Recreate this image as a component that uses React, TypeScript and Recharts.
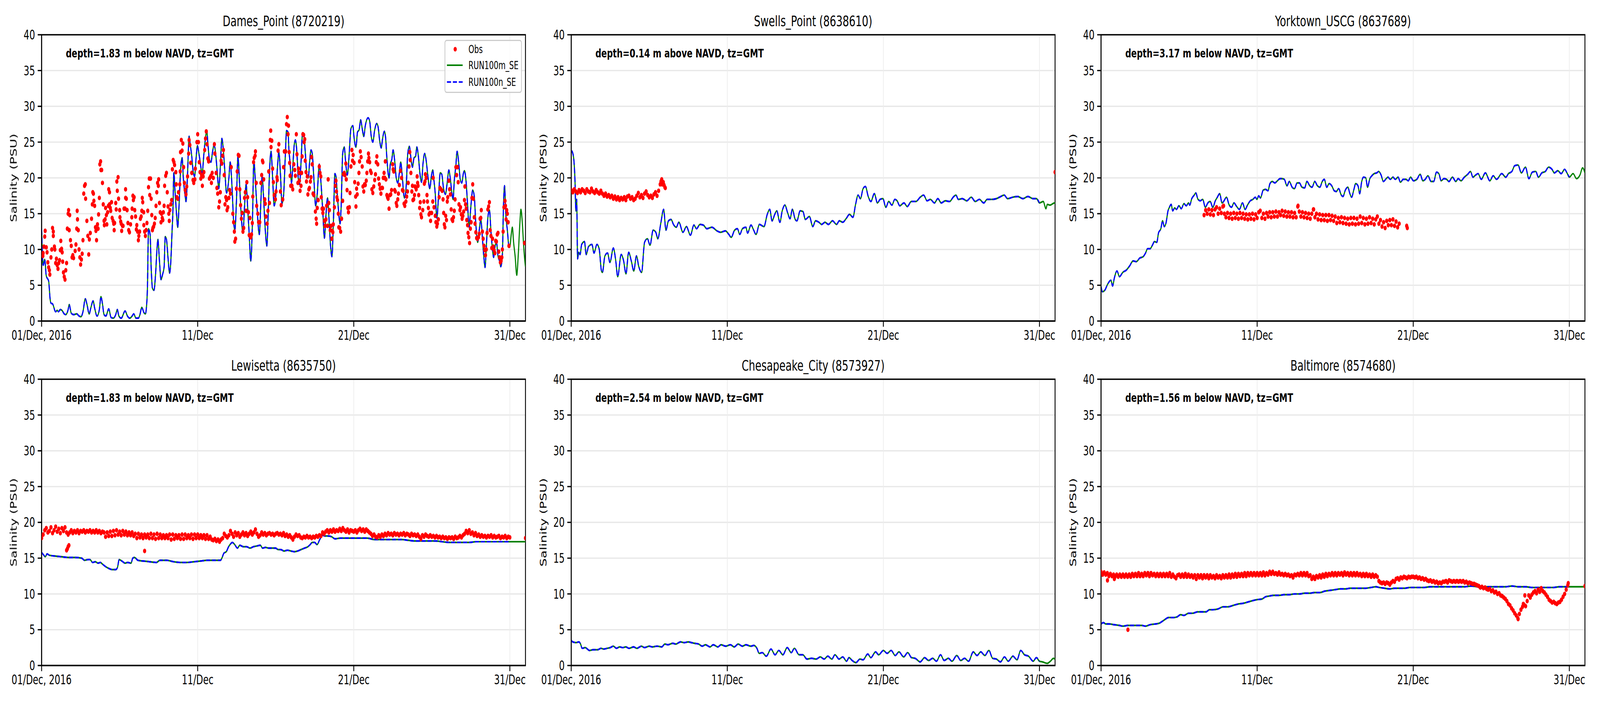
import React from 'react';
import { ComposedChart, Line, Scatter, XAxis, YAxis, CartesianGrid, ReferenceArea, Label, Legend } from 'recharts';

const FONT = 'DejaVu Sans';

// ---------- axes / labels ----------
const xTicks = [0, 10, 20, 30];
const xTickLabels = ['01/Dec, 2016', '11/Dec', '21/Dec', '31/Dec'];
const yTicks = [0, 5, 10, 15, 20, 25, 30, 35, 40];
const titles = [
  'Dames_Point (8720219)',
  'Swells_Point (8638610)',
  'Yorktown_USCG (8637689)',
  'Lewisetta (8635750)',
  'Chesapeake_City (8573927)',
  'Baltimore (8574680)',
];
const depthTexts = [
  'depth=1.83 m below NAVD, tz=GMT',
  'depth=0.14 m above NAVD, tz=GMT',
  'depth=3.17 m below NAVD, tz=GMT',
  'depth=1.83 m below NAVD, tz=GMT',
  'depth=2.54 m below NAVD, tz=GMT',
  'depth=1.56 m below NAVD, tz=GMT',
];
const legendNames = ['Obs', 'RUN100m_SE', 'RUN100n_SE'];
const blueEnd = 30.0; // RUN100n_SE ends at 31/Dec 00:00

// ---------- Dames Point ----------
const damesModel = [
  [0,12.9],[0.1,7.8],[0.2,8.6],[0.3,6.3],[0.45,5.6],[0.55,3.0],[0.6,2.5],[0.7,2.4],[0.9,1.3],[1.0,1.5],[1.08,1.3],[1.2,1.6],[1.3,1.5],[1.45,1.0],[1.55,0.9],[1.7,1.6],[1.77,2.3],[1.9,1.1],[2.05,0.9],[2.25,1.0],[2.4,0.7],[2.52,0.6],[2.65,1.3],[2.8,3.1],[2.9,2.4],[3.05,1.0],[3.15,1.8],[3.3,2.8],[3.4,1.8],[3.55,0.7],[3.7,1.6],[3.8,3.4],[3.9,2.4],[4.0,0.9],[4.12,0.7],[4.3,1.7],[4.45,0.5],[4.6,0.4],[4.75,0.9],[4.85,1.6],[4.95,0.7],[5.1,0.4],[5.35,1.4],[5.5,0.7],[5.65,0.4],[5.8,0.7],[5.9,1.0],[6.05,0.4],[6.2,0.4],[6.3,0.9],[6.42,1.9],[6.55,1.2],[6.65,1.0],[6.72,2.0],[6.78,4.6],[6.85,12.9],[6.95,12.1],[7.02,7.5],[7.1,4.6],[7.2,4.3],[7.3,6.5],[7.4,10.3],[7.45,11.4],[7.55,8.4],[7.65,5.8],[7.75,6.5],[7.85,7.6],[7.92,11.8],[8.0,11.4],[8.1,8.8],[8.2,6.7],[8.28,8.4],[8.35,12.1],[8.42,15.9],[8.47,20.7],[8.55,18.1],[8.65,14.8],[8.72,13.1],[8.8,15.9],[8.9,20.9],[9.0,22.8],[9.08,20.0],[9.2,17.4],[9.25,16.7],[9.35,20.6],[9.45,25.8],[9.52,24.7],[9.62,23.0],[9.7,21.1],[9.8,20.2],[9.9,22.8],[9.98,24.5],[10.08,23.4],[10.15,22.4],[10.28,20.6],[10.4,23.4],[10.5,25.6],[10.58,26.6],[10.65,24.9],[10.75,22.6],[10.85,22.2],[10.95,23.6],[11.05,24.6],[11.15,23.4],[11.25,20.9],[11.35,18.5],[11.45,21.5],[11.55,25.5],[11.65,23.7],[11.75,20.6],[11.85,17.9],[12.0,20.0],[12.08,22.2],[12.2,18.7],[12.3,14.0],[12.38,12.7],[12.48,16.6],[12.58,23.0],[12.68,19.3],[12.8,14.4],[12.9,12.3],[13.0,15.9],[13.1,19.1],[13.2,15.9],[13.3,12.1],[13.4,8.4],[13.5,13.1],[13.6,22.4],[13.7,19.3],[13.8,15.9],[13.95,12.1],[14.05,16.8],[14.13,20.3],[14.23,16.8],[14.35,12.1],[14.43,10.5],[14.52,15.3],[14.6,20.7],[14.7,23.7],[14.8,20.0],[14.9,16.1],[15.0,17.4],[15.1,21.1],[15.2,23.6],[15.3,20.6],[15.4,16.4],
  [15.5,17.5],[15.62,23.4],[15.69,26.6],[15.79,26.4],[15.84,24.1],[15.92,22.1],[16.01,19.3],[16.09,21.5],[16.19,24.7],[16.26,25.3],[16.36,23.4],[16.44,20.0],[16.52,19.1],[16.62,22.1],[16.72,26.3],[16.82,25.6],[16.89,23.7],[16.99,20.6],[17.09,20.0],[17.16,21.9],[17.26,23.9],[17.34,23.4],[17.44,20.0],[17.56,16.1],[17.66,17.8],[17.79,21.9],[17.89,19.6],[18.02,15.1],[18.12,11.6],[18.22,14.9],[18.32,17.2],[18.42,14.0],[18.52,10.3],[18.6,9.0],[18.69,13.4],[18.79,20.6],[18.86,20.2],[18.94,17.8],[19.02,15.5],[19.12,13.6],[19.19,15.9],[19.29,23.4],[19.39,24.3],[19.49,21.9],[19.59,20.4],[19.69,22.8],[19.82,26.9],[19.94,27.3],[20.02,25.6],[20.14,24.3],[20.24,26.4],[20.34,26.7],[20.44,28.1],[20.54,26.9],[20.64,25.8],[20.74,27.3],[20.92,28.4],[21.02,27.9],[21.12,25.8],[21.22,25.0],[21.34,26.7],[21.47,27.6],[21.56,27.1],[21.66,25.2],[21.76,24.2],[21.84,25.4],[21.96,26.5],[22.04,25.6],[22.12,22.8],[22.26,20.0],[22.34,21.9],[22.44,22.6],[22.52,23.9],[22.62,22.4],[22.72,20.0],[22.82,19.3],[22.92,20.7],[23.01,22.2],[23.1,20.4],[23.24,17.2],[23.36,18.9],[23.46,23.4],[23.56,24.4],[23.66,22.8],[23.76,21.5],[23.86,22.8],[23.96,23.0],[24.04,24.3],[24.14,23.0],[24.24,20.6],[24.34,19.4],[24.44,22.1],[24.54,23.4],[24.64,22.4],[24.74,20.4],[24.87,18.5],[24.97,20.2],[25.06,21.1],[25.14,19.6],[25.22,17.8],[25.32,14.4],[25.44,17.8],[25.54,20.7],[25.64,20.5],[25.74,18.7],[25.87,17.7],[25.99,19.4],[26.09,21.1],[26.19,19.8],[26.29,17.8],[26.36,17.0],[26.44,19.6],[26.54,21.7],[26.62,23.7],[26.74,21.7],[26.82,19.8],[26.92,19.3],[27.02,20.6],[27.09,21.0],[27.19,19.6],[27.29,16.3],[27.39,13.1],[27.49,15.7],[27.62,18.3],[27.72,17.4],[27.82,13.6],[27.94,11.0],[28.04,12.7],[28.14,14.2],[28.24,11.6],[28.34,8.8],[28.41,7.5],[28.49,10.3],[28.59,14.4],[28.69,15.5],[28.79,12.5],[28.89,9.9],[28.96,8.9],[29.04,10.3],[29.14,11.0],[29.24,9.1],[29.34,8.4],[29.42,7.6],[29.52,9.3],[29.59,15.9],[29.66,18.9],[29.74,14.9],[29.84,12.7],[29.94,10.4],[29.99,10.3],[30.09,12.1],[30.16,13.1],[30.24,11.0],[30.34,9.0],[30.44,6.4],[30.54,9.3],[30.64,13.6],[30.71,15.6],[30.79,14.0],[30.89,10.3],[30.96,8.4],[31.0,7.6],
];
const damesObs = [
  [0.08,9.1],[0.1,9.5],[0.15,10.4],[0.2,11.8],[0.23,12.6],[0.3,10.3],[0.35,9.6],[0.4,8.2],[0.45,7.5],[0.5,7.1],[0.53,6.5],[0.6,8.9],[0.65,10.0],[0.7,13.0],[0.75,12.5],[0.75,11.9],[0.82,10.4],[0.85,10.0],[0.9,8.1],[0.95,8.7],[1.0,7.8],[1.05,7.3],[1.1,8.1],[1.15,8.5],[1.2,9.9],[1.23,11.2],[1.28,10.1],[1.32,9.6],[1.35,8.3],[1.4,6.8],[1.45,6.2],[1.5,5.8],[1.55,7.1],[1.6,8.1],[1.65,12.9],[1.7,15.0],[1.73,15.5],[1.77,12.7],[1.8,14.8],[1.85,11.3],[1.9,10.5],[1.95,8.9],[2.0,9.2],[2.05,8.8],[2.15,9.8],[2.2,10.7],[2.25,12.9],[2.28,15.4],[2.3,14.2],[2.35,12.7],[2.4,10.0],[2.45,8.9],[2.5,7.9],[2.55,8.6],[2.6,9.4],[2.65,11.3],[2.7,17.8],[2.75,18.9],[2.8,19.1],[2.82,17.1],[2.9,14.0],[2.96,11.9],[3.02,9.3],[3.06,11.4],[3.12,12.3],[3.2,14.3],[3.25,16.3],[3.28,18.0],[3.32,17.8],[3.35,16.8],[3.4,16.1],[3.45,13.1],[3.48,12.6],[3.52,11.3],[3.58,13.5],[3.62,12.9],[3.65,14.9],[3.7,17.2],[3.73,21.9],[3.78,22.3],[3.8,21.1],[3.85,21.1],[3.9,19.3],[3.95,16.3],[4.0,14.0],[4.02,13.4],[4.07,14.2],[4.1,15.8],[4.15,14.8],[4.18,13.5],[4.23,15.2],[4.28,16.1],[4.3,18.4],[4.35,18.0],[4.35,16.3],[4.4,15.8],[4.43,15.4],[4.48,16.6],[4.52,14.4],[4.58,14.0],[4.62,13.6],[4.65,12.7],[4.68,13.7],[4.75,16.5],[4.78,15.6],[4.82,19.5],[4.85,18.2],[4.9,20.1],[4.93,17.1],[5.0,15.5],[5.02,14.5],[5.07,13.9],[5.1,13.6],[5.13,12.6],[5.18,13.3],[5.22,13.3],[5.28,15.7],[5.35,15.7],[5.38,18.4],[5.38,17.2],[5.43,17.1],[5.48,15.5],[5.53,13.7],[5.58,12.7],[5.63,12.4],[5.7,13.5],[5.78,14.5],[5.8,15.7],[5.85,17.5],[5.88,16.9],[5.93,17.3],[5.97,15.5],[6.02,14.6],[6.07,12.8],[6.1,13.4],[6.15,12.5],[6.2,11.3],[6.23,11.9],[6.28,12.5],[6.33,14.3],[6.38,14.6],[6.42,15.4],[6.45,17.2],[6.48,16.6],[6.54,15.2],[6.55,13.4],[6.6,12.5],[6.65,11.9],[6.7,12.7],[6.75,13.7],[6.8,15.4],[6.85,18.7],[6.9,19.9],[6.93,17.6],[6.98,19.9],[7.02,17.1],[7.06,14.8],[7.1,12.7],[7.13,13.0],[7.18,13.2],[7.23,13.6],[7.28,14.4],[7.33,16.1],[7.38,18.0],[7.43,19.3],[7.48,18.9],[7.5,19.8],[7.55,16.5],[7.6,15.2],[7.65,13.8],[7.68,15.0],[7.73,14.4],[7.77,14.1],[7.8,15.2],[7.85,16.1],[7.88,18.9],[7.95,20.3],[8.0,20.7],[8.05,18.0],[8.1,16.0],[8.15,15.0],[8.18,14.0],[8.22,15.5],[8.28,16.3],[8.33,16.9],[8.38,21.2],[8.43,22.5],[8.48,22.2],[8.52,21.8],[8.6,20.8],[8.63,19.1],[8.67,17.3],[8.72,17.1],[8.77,18.0],[8.85,19.1],[8.88,20.9],[8.9,23.6],[8.95,25.3],[9.0,23.8],[9.05,24.8],[9.1,21.5],[9.15,19.3],[9.2,18.3],[9.25,17.7],[9.3,18.8],[9.35,20.2],[9.42,23.4],[9.45,25.3],[9.5,24.6],[9.55,22.1],[9.62,20.7],[9.7,19.7],[9.75,19.3],[9.82,19.8],[9.85,21.3],[9.95,25.0],[10.0,26.1],[10.05,25.0],[10.1,22.2],[10.15,20.8],[10.2,19.9],[10.25,20.4],[10.3,18.9],[10.35,20.2],[10.4,20.8],[10.45,23.9],[10.5,25.5],[10.55,26.5],[10.6,24.7],[10.65,22.7],[10.7,22.3],[10.75,19.9],[10.8,20.1],[10.85,20.3],[10.88,19.3],[10.93,20.7],[11.0,20.0],[11.07,24.7],[11.1,23.4],[11.18,20.7],[11.23,18.6],[11.28,17.8],[11.35,15.9],[11.4,16.7],[11.45,18.0],[11.5,22.4],[11.55,22.0],[11.6,23.1],[11.65,23.9],[11.7,20.4],[11.75,16.3],[11.8,17.3],[11.85,16.9],[11.88,15.5],[11.93,15.9],[12.0,17.2],[12.05,18.3],[12.1,17.8],[12.15,21.5],[12.25,15.0],[12.3,13.8],[12.35,12.5],[12.38,11.1],[12.43,11.5],[12.48,18.5],[12.53,20.9],[12.6,23.2],[12.65,23.1],[12.7,18.4],[12.75,16.2],[12.8,14.3],[12.85,15.1],[12.9,12.5],[12.95,13.0],[13.0,17.2],[13.05,18.0],[13.1,15.4],[13.15,19.4],[13.2,17.3],[13.25,15.2],[13.3,12.0],[13.35,14.4],[13.4,11.7],[13.45,12.1],[13.5,13.7],[13.53,17.4],[13.58,22.2],[13.62,22.8],[13.68,23.1],[13.7,23.7],[13.75,19.3],[13.78,16.1],[13.85,15.0],[13.9,13.8],[13.98,13.8],[14.05,19.3],[14.1,20.4],[14.15,22.4],[14.18,22.2],[14.23,19.8],[14.3,17.0],[14.33,16.4],[14.37,14.6],[14.45,13.6],[14.5,15.4],[14.55,20.9],[14.6,16.5],[14.65,25.3],[14.68,26.6],[14.7,24.3],[14.75,25.2],[14.8,21.3],[14.85,19.4],[14.9,17.6],[14.98,17.0],[15.02,18.1],[15.08,20.1],[15.1,19.7],[15.15,23.8],[15.2,24.7],[15.3,18.1],[15.35,16.2],[15.45,17.0],[15.5,21.5],[15.55,23.7],
  [15.64,23.7],[15.69,27.5],[15.74,28.5],[15.79,26.1],[15.82,27.3],[15.86,23.6],[15.89,22.1],[15.92,20.3],[15.96,18.9],[16.04,18.9],[16.09,18.4],[16.16,21.9],[16.22,21.1],[16.26,20.3],[16.32,26.1],[16.36,23.3],[16.42,19.3],[16.46,21.3],[16.5,20.7],[16.52,19.6],[16.56,18.2],[16.62,18.9],[16.66,20.7],[16.69,23.0],[16.74,26.1],[16.79,26.0],[16.82,25.0],[16.86,25.4],[16.89,22.4],[16.94,20.8],[16.97,19.5],[17.02,20.2],[17.06,17.7],[17.12,18.4],[17.16,18.6],[17.22,19.5],[17.26,20.1],[17.29,22.9],[17.34,21.9],[17.39,17.8],[17.44,17.6],[17.54,15.3],[17.59,14.3],[17.62,13.6],[17.66,15.8],[17.72,16.9],[17.79,21.6],[17.84,20.7],[17.89,20.2],[17.92,17.3],[17.97,15.7],[18.02,15.1],[18.06,15.7],[18.12,14.0],[18.16,13.3],[18.22,14.2],[18.26,16.1],[18.32,13.3],[18.36,19.8],[18.4,16.5],[18.44,15.5],[18.49,12.7],[18.54,13.3],[18.59,11.5],[18.62,12.6],[18.66,12.4],[18.69,13.5],[18.76,15.9],[18.82,18.9],[18.86,19.6],[18.89,18.1],[18.92,17.3],[18.96,16.9],[19.01,15.0],[19.04,13.1],[19.1,13.0],[19.16,12.5],[19.22,14.3],[19.29,16.8],[19.34,20.5],[19.39,20.7],[19.44,20.4],[19.49,22.0],[19.52,19.8],[19.57,18.3],[19.62,15.8],[19.66,15.2],[19.72,15.9],[19.76,17.9],[19.82,21.6],[19.88,23.9],[19.92,22.4],[19.96,23.2],[20.02,22.1],[20.06,19.4],[20.12,17.4],[20.14,16.0],[20.18,18.5],[20.22,17.7],[20.28,19.2],[20.33,20.7],[20.37,22.3],[20.42,23.7],[20.47,22.9],[20.54,21.6],[20.59,18.8],[20.64,18.1],[20.69,19.1],[20.74,19.0],[20.8,19.6],[20.84,20.7],[20.89,22.3],[20.94,23.4],[20.97,22.8],[21.02,22.2],[21.07,21.0],[21.12,20.7],[21.16,18.4],[21.22,17.9],[21.28,18.8],[21.34,19.7],[21.39,20.5],[21.44,22.2],[21.48,23.0],[21.54,21.9],[21.59,19.9],[21.64,19.1],[21.69,18.5],[21.74,17.8],[21.79,18.6],[21.84,18.6],[21.89,20.0],[21.94,20.7],[21.99,20.0],[22.02,22.3],[22.06,19.8],[22.12,17.6],[22.16,17.3],[22.2,17.1],[22.26,15.7],[22.32,17.6],[22.37,17.7],[22.42,18.3],[22.49,21.9],[22.52,21.2],[22.56,20.9],[22.62,18.3],[22.66,18.1],[22.72,16.5],[22.76,16.1],[22.82,17.0],[22.86,17.8],[22.92,19.0],[22.99,21.0],[23.06,20.0],[23.12,18.3],[23.16,18.2],[23.22,16.4],[23.27,16.1],[23.34,16.7],[23.39,17.4],[23.44,18.1],[23.49,19.3],[23.54,21.6],[23.59,23.6],[23.62,22.5],[23.66,20.7],[23.72,18.1],[23.76,18.9],[23.79,16.9],[23.84,17.0],[23.89,17.6],[23.92,18.8],[23.96,18.7],[24.0,18.4],[24.06,20.2],[24.09,19.3],[24.12,18.9],[24.16,17.6],[24.22,15.8],[24.26,16.6],[24.3,14.9],[24.34,14.5],[24.42,15.5],[24.49,16.7],[24.52,19.2],[24.56,19.5],[24.59,20.5],[24.64,20.0],[24.69,17.6],[24.72,16.7],[24.78,15.8],[24.82,14.9],[24.87,15.1],[24.92,14.0],[24.99,15.1],[25.06,16.7],[25.09,20.0],[25.14,15.9],[25.22,14.7],[25.26,13.8],[25.32,13.2],[25.36,13.6],[25.42,14.2],[25.47,17.3],[25.52,18.6],[25.59,18.4],[25.66,18.2],[25.72,17.0],[25.76,15.1],[25.8,13.5],[25.84,13.1],[25.89,14.7],[25.94,14.1],[25.99,16.7],[26.02,17.3],[26.09,19.6],[26.14,18.4],[26.19,17.7],[26.24,15.6],[26.29,14.2],[26.34,14.0],[26.39,14.5],[26.44,15.4],[26.49,17.0],[26.54,21.5],[26.59,20.4],[26.64,21.5],[26.69,19.4],[26.74,16.3],[26.8,15.5],[26.84,15.9],[26.89,14.9],[26.94,14.3],[26.99,14.7],[27.04,15.3],[27.09,16.9],[27.12,18.8],[27.16,16.3],[27.2,15.7],[27.24,14.1],[27.29,13.4],[27.32,12.3],[27.37,11.7],[27.42,10.9],[27.47,12.9],[27.52,13.8],[27.57,17.2],[27.62,19.1],[27.66,17.1],[27.72,14.5],[27.77,13.6],[27.82,12.4],[27.87,11.6],[27.92,11.5],[27.99,11.7],[28.04,12.2],[28.09,14.3],[28.14,14.4],[28.17,15.5],[28.24,12.5],[28.29,11.5],[28.34,10.5],[28.39,9.9],[28.44,9.2],[28.49,10.0],[28.54,12.3],[28.59,15.6],[28.64,16.0],[28.69,16.6],[28.74,12.7],[28.79,11.9],[28.84,10.2],[28.89,11.5],[28.94,10.4],[28.99,9.9],[29.04,9.5],[29.09,11.2],[29.14,11.1],[29.19,12.1],[29.24,12.3],[29.29,9.7],[29.34,8.9],[29.39,8.2],[29.44,8.4],[29.49,8.9],[29.52,10.0],[29.57,12.5],[29.62,15.9],[29.69,16.8],[29.72,16.1],[29.76,14.2],[29.8,15.5],[29.84,15.0],[29.89,13.8],[29.94,10.5],[30.94,10.9],
];

// ---------- Swells Point ----------
const swellsModel = [
  [0.04,23.8],[0.15,22.9],[0.24,19.8],[0.3,15.4],[0.35,17.0],[0.41,8.7],[0.48,9.6],[0.57,9.3],[0.67,10.7],[0.85,11.1],[0.96,9.3],[1.11,10.4],[1.33,10.7],[1.46,9.5],[1.65,10.7],[1.79,10.1],[1.94,7.0],[2.0,6.8],[2.16,9.1],[2.33,9.5],[2.48,8.2],[2.7,10.2],[2.85,8.5],[2.98,6.2],[3.2,9.3],[3.35,8.5],[3.51,6.6],[3.68,9.6],[3.85,8.4],[4.01,7.0],[4.18,9.1],[4.33,7.6],[4.51,6.8],[4.7,11.0],[4.88,11.5],[5.05,10.6],[5.25,12.7],[5.42,12.4],[5.55,11.5],[5.75,13.8],[5.92,15.6],[6.07,12.7],[6.23,14.0],[6.4,14.2],[6.55,13.5],[6.73,13.1],[6.9,13.8],[7.16,12.4],[7.38,13.2],[7.64,12.0],[7.86,13.4],[8.03,12.9],[8.25,13.5],[8.47,13.4],[8.69,12.9],[9.01,13.1],[9.34,12.6],[9.56,12.4],[9.88,12.6],[10.1,12.1],[10.25,11.7],[10.47,12.7],[10.65,12.9],[10.8,12.1],[10.97,12.9],[11.19,13.1],[11.3,12.3],[11.52,13.4],[11.69,12.7],[11.84,12.1],[12.06,13.5],[12.35,13.2],[12.56,14.9],[12.72,15.6],[12.87,14.0],[13.04,14.9],[13.17,15.4],[13.37,13.8],[13.52,15.4],[13.69,16.2],[13.87,15.1],[14.02,14.3],[14.17,15.6],[14.35,14.2],[14.46,14.0],[14.67,15.4],[14.85,15.3],[15.0,14.2],[15.26,14.6],[15.48,13.2],[15.65,14.0],[15.87,13.8],[16.05,13.5],[16.26,13.8],[16.48,13.5],[16.74,14.0],[17.0,13.5],[17.18,14.0],[17.4,13.8],[17.61,14.3],[17.83,14.9],[18.05,14.5],[18.22,16.3],[18.38,17.6],[18.53,17.1],[18.7,18.5],[18.85,18.8],[19.03,17.4],[19.2,16.7],[19.42,17.8],[19.62,16.5],[19.79,17.0],[19.97,17.1],[20.16,15.9],[20.34,16.7],[20.55,16.2],[20.73,17.0],[20.88,16.8],[21.05,16.1],[21.32,16.5],[21.53,16.0],[21.79,16.7],[22.08,16.7],[22.36,17.3],[22.58,17.6],[22.8,16.8],[23.01,17.0],[23.27,16.5],[23.49,17.1],[23.71,16.5],[23.97,16.8],[24.25,16.7],[24.47,17.3],[24.65,17.6],[24.8,17.0],[25.06,17.1],[25.34,16.8],[25.63,17.3],[25.89,16.7],[26.15,17.0],[26.43,16.5],[26.65,17.0],[26.98,17.0],[27.24,17.1],[27.52,17.4],[27.74,17.6],[27.96,17.1],[28.28,17.3],[28.61,17.4],[28.94,17.1],[29.26,17.4],[29.59,17.1],[29.81,17.1],[30.0,16.5],[30.24,16.7],[30.42,15.7],[30.5,16.3],[30.68,16.2],[30.96,16.5],[31.0,16.5],
];
const swellsObsStart = 0;
const swellsObsStep = 0.1;
const swellsObs = [
  18.3,18.0,18.4,18.1,17.9,18.3,18.0,18.4,18.2,17.9,
  18.4,18.1,18.0,18.5,18.1,17.9,18.3,18.0,17.8,18.2,
  17.8,17.5,17.8,17.4,17.6,17.3,17.5,17.1,17.4,17.0,
  17.3,16.9,17.2,17.0,17.3,16.9,17.4,17.5,17.1,17.3,
  16.9,17.1,17.5,17.9,17.3,17.6,17.2,17.8,18.1,17.6,
  17.3,17.5,17.2,17.7,18.0,17.5,18.2,19.1,19.8,19.4,18.7,
];
const swellsObsExtra = [[5.75,19.5],[5.83,19.1],[5.95,19.0],[6.03,18.6],[31.0,20.8]];

// ---------- Yorktown ----------
const yorkModel = [
  [0,4.8],[0.09,4.1],[0.24,4.3],[0.41,5.1],[0.63,5.7],[0.74,4.9],[0.85,6.0],[1.02,7.0],[1.18,6.2],[1.39,6.8],[1.61,7.1],[1.83,7.7],[2.05,8.4],[2.26,8.3],[2.48,8.8],[2.7,9.0],[2.85,9.5],[2.98,10.1],[3.14,10.1],[3.29,10.6],[3.42,11.1],[3.57,11.0],[3.68,12.3],[3.83,12.9],[3.94,14.0],[4.05,13.2],[4.16,13.7],[4.29,15.4],[4.38,15.9],[4.49,16.3],[4.59,15.4],[4.72,15.8],[4.83,15.6],[4.99,16.1],[5.14,15.7],[5.31,16.4],[5.46,16.1],[5.6,16.5],[5.68,16.2],[5.81,17.1],[5.97,17.6],[6.07,17.9],[6.21,17.0],[6.36,16.8],[6.51,17.0],[6.68,15.9],[6.84,16.5],[6.99,16.7],[7.16,15.9],[7.32,16.8],[7.45,17.3],[7.6,17.8],[7.75,16.5],[7.88,16.8],[8.03,17.3],[8.21,16.2],[8.36,15.9],[8.51,16.5],[8.69,16.0],[8.86,15.6],[9.06,16.5],[9.23,15.6],[9.38,16.2],[9.56,16.8],[9.73,17.0],[9.88,17.3],[9.99,17.0],[10.1,17.5],[10.21,17.2],[10.39,18.3],[10.54,18.4],[10.69,18.2],[10.82,19.2],[10.97,19.5],[11.13,19.3],[11.3,19.6],[11.47,19.9],[11.58,19.9],[11.74,19.8],[11.91,18.9],[12.06,19.5],[12.24,18.7],[12.39,18.5],[12.56,19.3],[12.71,19.3],[12.87,18.7],[13.04,18.6],[13.19,19.5],[13.37,18.9],[13.52,18.7],[13.69,19.5],[13.86,18.9],[14.02,18.7],[14.17,19.5],[14.3,19.8],[14.46,18.7],[14.61,19.2],[14.78,18.9],[14.94,18.2],[15.07,18.1],[15.22,18.5],[15.39,17.6],[15.5,17.4],[15.65,18.3],[15.81,18.7],[15.94,17.8],[16.05,17.3],[16.2,18.4],[16.31,19.2],[16.46,18.9],[16.57,17.8],[16.7,19.5],[16.81,20.1],[16.96,20.0],[17.07,18.7],[17.22,19.9],[17.35,20.3],[17.5,20.6],[17.66,20.7],[17.79,20.9],[17.94,20.4],[18.09,19.5],[18.27,19.9],[18.38,20.1],[18.53,19.8],[18.7,20.1],[18.85,19.8],[19.03,20.1],[19.18,19.4],[19.36,19.8],[19.53,19.8],[19.68,19.6],[19.83,20.1],[20.01,19.6],[20.23,19.8],[20.44,20.5],[20.62,19.6],[20.77,19.8],[20.94,20.3],[21.14,19.5],[21.31,19.5],[21.49,20.8],[21.64,20.6],[21.79,19.6],[21.97,19.9],[22.14,19.8],[22.29,19.5],[22.51,20.1],[22.73,19.5],[22.88,19.9],[23.06,19.6],[23.27,20.1],[23.49,20.5],[23.67,20.9],[23.82,20.1],[24.0,20.4],[24.15,20.6],[24.36,19.8],[24.62,20.7],[24.91,19.6],[25.12,20.3],[25.34,19.8],[25.67,20.6],[25.93,20.1],[26.1,20.6],[26.32,20.9],[26.5,21.7],[26.71,21.8],[26.93,20.7],[27.19,21.5],[27.41,19.9],[27.63,20.8],[27.85,20.9],[28.02,20.1],[28.24,20.7],[28.46,20.9],[28.67,21.5],[28.89,21.2],[29.04,20.7],[29.26,21.0],[29.48,20.6],[29.7,21.2],[29.85,20.7],[30.0,20.1],[30.24,20.6],[30.46,19.9],[30.68,20.4],[30.85,21.4],[31.0,20.7],
];
const yorkObsStart = 6.6;
const yorkObsStep = 0.1;
const yorkObs = [
  14.8,15.5,15.0,15.6,14.9,15.5,14.8,15.6,15.9,15.0,
  15.7,15.1,16.0,15.0,14.5,15.1,14.4,15.0,14.3,15.1,
  14.4,15.0,14.3,15.1,14.4,15.0,14.3,14.9,14.2,14.9,
  14.3,15.0,14.2,14.9,14.4,15.2,15.4,14.4,15.0,14.3,
  15.1,14.6,15.2,14.5,15.2,14.6,15.3,14.6,15.2,14.8,
  15.4,14.7,15.3,14.6,15.2,14.6,15.2,14.5,15.1,14.5,
  16.0,15.3,14.6,15.2,14.5,15.1,14.4,15.0,14.3,15.0,
  15.6,14.5,15.0,14.2,14.9,14.1,14.8,14.1,14.8,14.0,
  14.8,14.1,14.7,14.0,14.6,13.7,14.4,13.8,14.5,13.7,
  14.4,13.6,14.3,13.5,14.4,13.6,14.4,13.5,14.3,13.6,
  14.6,13.7,14.4,13.5,14.3,13.6,14.5,13.7,14.3,13.5,
  14.2,14.6,13.6,14.1,13.2,13.8,13.0,14.0,13.4,14.1,
  13.4,14.2,13.3,13.9,13.1,13.6,
];
const yorkObsExtra = [[7.85,16.1],[12.62,16.1],[13.62,15.6],[19.58,13.3],[19.62,13.0]];

// ---------- Lewisetta ----------
const lewisModel = [
  [0,15.8],[0.11,15.5],[0.24,15.2],[0.35,15.6],[0.5,15.4],[0.83,15.3],[1.26,15.2],[1.7,15.1],[2.14,15.1],[2.57,15.0],[2.75,14.7],[2.96,14.8],[3.1,14.8],[3.27,14.4],[3.44,14.5],[3.62,14.3],[3.77,14.4],[3.88,14.2],[4.05,13.9],[4.27,13.6],[4.53,13.4],[4.75,13.4],[4.86,13.7],[4.97,14.8],[5.14,14.6],[5.36,14.3],[5.51,14.4],[5.73,14.3],[5.84,15.0],[5.95,15.1],[6.17,14.7],[6.49,14.6],[6.93,14.5],[7.36,14.4],[7.58,14.7],[8.02,14.7],[8.45,14.5],[8.89,14.4],[9.32,14.4],[9.76,14.5],[10.2,14.6],[10.63,14.7],[11.07,14.7],[11.46,14.7],[11.55,15.0],[11.68,15.7],[11.83,15.9],[11.98,16.6],[12.11,17.0],[12.22,17.2],[12.37,16.9],[12.55,16.4],[12.7,16.8],[12.92,16.6],[13.14,16.6],[13.35,16.4],[13.57,16.6],[13.79,16.7],[14.01,16.8],[14.16,16.4],[14.34,16.5],[14.55,16.4],[14.77,16.4],[14.99,16.4],[15.16,16.2],[15.32,16.2],[15.53,16.0],[15.75,16.1],[15.97,16.0],[16.19,15.9],[16.41,16.0],[16.62,16.2],[16.84,16.4],[17.06,16.6],[17.21,16.9],[17.34,17.2],[17.49,17.2],[17.65,16.9],[17.82,17.6],[18.0,18.2],[18.15,18.1],[18.37,18.1],[18.58,18.0],[18.8,17.7],[19.13,17.8],[19.56,17.8],[20.0,17.8],[20.44,17.8],[20.87,17.8],[21.31,17.6],[21.74,17.6],[22.18,17.6],[22.61,17.6],[23.05,17.6],[23.49,17.5],[23.92,17.4],[24.36,17.4],[24.79,17.4],[25.23,17.4],[25.66,17.3],[26.1,17.2],[26.54,17.2],[26.97,17.2],[27.41,17.2],[27.84,17.3],[28.28,17.3],[28.71,17.3],[29.15,17.3],[29.59,17.3],[30.0,17.3],[30.5,17.3],[31.0,17.3],
];
const lewisObsStart = 0;
const lewisObsStep = 0.1;
const lewisObs = [
  17.8,18.3,18.9,19.2,18.6,18.8,19.3,18.5,18.9,19.4,
  18.7,19.1,18.5,19.2,18.8,19.3,18.6,18.3,18.6,18.9,
  18.5,18.8,18.6,18.9,18.5,18.8,18.7,18.9,18.6,18.8,
  18.7,18.9,18.6,18.8,18.6,18.9,18.6,18.8,18.5,18.7,
  18.6,18.0,18.6,18.1,18.7,18.1,18.8,18.2,18.9,18.3,
  18.7,18.2,18.8,18.3,18.7,18.2,18.6,18.2,18.6,18.1,
  18.4,17.8,18.4,17.9,18.3,17.8,18.3,17.9,18.3,17.8,
  18.4,17.8,18.3,17.7,18.4,17.8,18.3,17.8,18.2,17.8,
  18.2,17.8,18.3,17.6,18.3,17.7,18.2,17.8,18.2,17.7,
  18.3,17.7,18.3,17.8,18.2,17.8,18.3,17.7,18.3,17.8,
  18.3,17.8,18.2,17.8,18.2,17.7,18.2,17.7,18.0,17.6,
  17.5,17.7,17.4,17.6,17.3,17.6,17.8,18.4,18.1,17.9,
  18.2,18.8,18.4,18.0,18.6,18.2,18.5,18.0,18.3,18.6,
  18.2,18.5,18.1,18.4,18.7,18.3,18.6,19.0,18.4,18.0,
  18.2,18.6,18.3,18.5,18.2,18.4,18.5,18.3,18.4,18.2,
  18.4,18.5,18.3,18.4,18.2,18.5,18.1,18.3,18.0,18.2,
  17.9,17.6,18.0,18.3,18.1,18.2,17.9,17.8,18.0,17.9,
  18.1,17.9,18.0,17.8,18.0,17.9,18.1,18.0,18.2,18.1,
  18.6,18.4,18.7,18.9,18.6,18.9,18.7,19.0,18.7,18.9,
  18.8,19.1,18.8,19.2,18.9,18.7,19.0,18.6,18.9,18.8,
  18.7,18.9,18.6,18.9,19.1,18.8,19.0,18.7,19.0,18.8,
  18.6,18.4,18.1,18.3,18.0,17.9,18.2,18.0,18.3,18.1,
  18.4,18.2,18.5,18.3,18.4,18.2,18.5,18.3,18.4,18.2,
  18.4,18.3,18.5,18.2,18.4,18.3,18.1,18.4,18.2,18.3,
  18.1,18.3,18.0,17.7,18.2,18.0,18.3,18.1,18.0,18.2,
  18.0,18.1,17.9,18.1,17.9,18.0,17.8,18.0,17.8,17.9,
  17.7,17.9,17.8,17.9,17.7,18.0,17.8,17.9,18.1,17.9,
  18.2,18.4,18.8,18.5,18.9,18.4,18.6,18.2,18.5,18.1,
  18.3,18.0,18.2,18.0,18.1,17.9,18.1,18.0,18.2,17.9,
  18.1,17.9,18.0,18.1,17.8,18.0,17.9,18.1,17.8,18.0,
  17.9,
];
const lewisObsExtra = [[1.6,16.1],[1.65,16.3],[1.7,16.6],[1.75,16.8],[6.6,16.0],[31.0,17.8]];

// ---------- Chesapeake City ----------
const chesModel = [
  [0,3.5],[0.1,3.3],[0.3,3.2],[0.5,3.3],[0.6,3.0],[0.7,2.4],[0.9,2.5],[1.04,2.3],[1.16,2.1],[1.4,2.2],[1.7,2.2],[1.9,2.4],[2.1,2.3],[2.3,2.4],[2.5,2.5],[2.7,2.7],[2.9,2.4],[3.1,2.6],[3.3,2.5],[3.5,2.6],[3.7,2.4],[4.0,2.6],[4.2,2.4],[4.5,2.7],[4.7,2.5],[5.0,2.7],[5.2,2.6],[5.5,2.7],[5.8,2.6],[6.0,3.0],[6.2,2.9],[6.5,3.1],[6.7,3.0],[7.0,3.3],[7.24,3.2],[7.5,3.3],[7.7,3.2],[7.9,3.1],[8.16,3.0],[8.4,2.7],[8.6,2.9],[8.9,2.6],[9.1,2.9],[9.4,2.6],[9.6,2.9],[9.9,2.7],[10.2,2.9],[10.44,2.6],[10.7,3.0],[10.96,2.7],[11.2,2.9],[11.5,2.7],[11.7,2.8],[11.9,2.4],[12.04,1.7],[12.24,1.8],[12.5,1.3],[12.8,2.3],[13.06,1.5],[13.3,2.1],[13.56,1.5],[13.84,2.5],[14.1,1.8],[14.3,2.4],[14.6,1.5],[14.84,1.5],[15.1,0.9],[15.4,1.0],[15.7,0.9],[15.96,1.2],[16.2,0.9],[16.44,1.3],[16.7,0.9],[16.9,1.5],[17.16,0.9],[17.4,1.2],[17.64,0.6],[17.8,1.1],[18.0,0.7],[18.24,0.4],[18.5,0.9],[18.7,0.8],[19.0,1.6],[19.2,1.1],[19.5,1.9],[19.7,1.5],[20.0,2.1],[20.24,1.7],[20.5,2.1],[20.76,1.4],[21.0,1.9],[21.3,1.2],[21.56,1.8],[21.8,1.1],[22.04,1.0],[22.36,0.5],[22.64,1.1],[22.9,0.7],[23.16,1.0],[23.4,0.6],[23.66,1.5],[23.9,0.7],[24.16,1.0],[24.4,0.6],[24.7,1.4],[24.96,0.7],[25.2,1.0],[25.46,0.6],[25.76,1.9],[26.0,1.4],[26.24,1.9],[26.5,1.4],[26.76,2.1],[27.0,1.0],[27.24,0.9],[27.5,0.5],[27.76,1.2],[28.0,0.6],[28.3,1.3],[28.56,0.8],[28.8,2.1],[29.04,1.5],[29.3,1.3],[29.6,0.6],[29.8,1.1],[30.0,0.6],[30.2,0.5],[30.5,0.3],[30.7,0.6],[30.9,1.0],[31.0,0.9],
];

// ---------- Baltimore ----------
const baltModel = [
  [0,5.8],[0.15,6.0],[0.3,5.8],[0.52,5.8],[0.85,5.7],[1.18,5.6],[1.39,5.5],[1.72,5.6],[2.16,5.6],[2.59,5.6],[2.85,5.5],[3.14,5.7],[3.46,5.8],[3.72,5.9],[4.01,6.3],[4.33,6.7],[4.66,6.7],[4.88,6.8],[5.09,7.1],[5.31,7.0],[5.6,7.3],[5.86,7.3],[6.18,7.5],[6.51,7.5],[6.73,7.5],[6.95,7.8],[7.16,7.8],[7.49,7.9],[7.82,8.2],[8.14,8.2],[8.47,8.4],[8.8,8.6],[9.12,8.7],[9.45,8.9],[9.78,9.1],[9.99,9.2],[10.32,9.3],[10.54,9.6],[10.76,9.7],[11.08,9.8],[11.41,9.8],[11.74,9.9],[12.06,9.9],[12.39,10.0],[12.71,10.0],[13.04,10.1],[13.37,10.1],[13.69,10.2],[14.02,10.2],[14.35,10.4],[14.67,10.5],[15.0,10.6],[15.33,10.7],[15.65,10.7],[15.98,10.8],[16.31,10.8],[16.63,10.8],[16.96,10.8],[17.29,10.9],[17.61,11.0],[17.83,10.9],[18.16,10.8],[18.48,10.7],[18.81,10.8],[19.14,10.8],[19.46,10.8],[19.79,10.9],[20.23,10.9],[20.66,10.9],[21.1,11.0],[21.53,11.0],[21.97,11.0],[22.4,11.0],[22.84,11.0],[23.27,11.0],[23.71,11.1],[24.15,11.0],[24.58,11.0],[25.02,11.0],[25.45,11.0],[25.89,11.0],[26.32,11.1],[26.76,11.0],[27.19,11.0],[27.63,10.9],[28.06,10.9],[28.5,10.9],[28.94,10.9],[29.37,11.0],[29.81,11.0],[30.0,11.0],[30.46,11.0],[31.0,11.0],
];
const baltObsStart = 0;
const baltObsStep = 0.1;
const baltObs = [
  13.1,12.7,13.0,12.7,12.9,12.5,12.8,12.5,12.7,12.4,
  12.7,12.4,12.7,12.4,12.7,12.4,12.7,12.4,12.7,12.4,
  12.8,12.5,12.8,12.5,12.9,12.5,12.8,12.5,12.9,12.6,
  12.9,12.5,12.9,12.6,12.8,12.5,12.8,12.5,12.8,12.5,
  12.8,12.5,12.8,12.5,12.9,12.4,12.7,12.4,12.2,12.6,
  12.7,12.4,12.7,12.4,12.8,12.4,12.7,12.4,12.6,12.3,
  12.6,12.1,12.6,12.3,12.6,12.2,12.6,12.3,12.6,12.2,
  12.6,12.3,12.5,12.2,12.6,12.3,12.5,12.2,12.6,12.3,
  12.6,12.3,12.7,12.3,12.7,12.4,12.8,12.4,12.8,12.5,
  12.8,12.5,12.9,12.5,12.9,12.6,12.9,12.6,12.9,12.6,
  12.9,12.6,12.9,12.6,13.0,12.6,12.9,12.7,13.1,12.8,
  13.1,12.8,12.9,12.7,13.0,12.7,12.8,12.6,12.8,12.6,
  12.7,12.5,12.6,12.3,12.7,12.6,12.8,12.6,12.9,12.6,
  12.9,12.6,12.9,12.5,12.6,12.1,12.4,12.1,12.5,12.3,
  12.6,12.3,12.7,12.4,12.8,12.5,12.8,12.6,12.9,12.6,
  12.9,12.6,12.9,12.7,12.9,12.6,13.0,12.7,12.9,12.6,
  12.9,12.6,12.9,12.6,12.9,12.6,12.8,12.5,12.8,12.5,
  12.8,12.5,12.7,12.4,12.7,12.4,12.6,12.4,11.8,11.6,
  11.5,11.6,11.4,11.6,11.5,11.3,11.6,11.8,11.7,12.1,
  12.2,12.0,12.3,12.2,12.4,12.3,12.2,12.4,12.3,12.4,
  12.4,12.3,12.4,12.2,12.3,12.1,12.2,12.0,12.1,11.9,
  11.8,11.9,11.7,11.8,11.6,11.7,11.5,11.6,11.5,11.7,
  11.7,11.8,11.6,11.9,11.8,11.7,11.8,11.7,11.8,11.7,
  11.8,11.7,11.8,11.6,11.7,11.5,11.6,11.5,11.4,11.4,
  11.3,11.2,11.1,10.9,11.0,10.8,10.9,10.7,10.6,10.7,
  10.4,10.5,10.2,10.3,10.0,10.1,9.8,9.7,9.5,9.3,
  9.0,8.6,8.4,8.0,7.7,7.3,7.0,6.6,7.2,7.8,
  8.2,8.5,8.3,9.0,9.8,9.5,9.9,10.2,10.4,10.1,
  10.6,10.3,10.8,10.4,10.2,9.9,9.6,9.2,9.0,8.8,
  8.9,8.7,8.6,8.8,8.9,9.2,9.6,10.0,10.6,11.2,
];
const baltObsExtra = [[0.41,11.9],[0.85,12.1],[1.72,5.0],[26.72,6.5],[27.05,8.6],[27.15,9.8],[29.93,11.5],[31.0,11.1]];

// ---------- helpers ----------
type Pt = { t: number; v: number };
const fromPairs = (pairs: number[][]): Pt[] => pairs.map(([t, v]) => ({ t, v }));
const fromGrid = (start: number, step: number, vals: number[]): Pt[] =>
  vals.map((v, i) => ({ t: Math.round((start + i * step) * 1000) / 1000, v }));

const stations = [
  { model: damesModel, obs: fromPairs(damesObs) },
  { model: swellsModel, obs: [...fromGrid(swellsObsStart, swellsObsStep, swellsObs), ...fromPairs(swellsObsExtra)] },
  { model: yorkModel, obs: [...fromGrid(yorkObsStart, yorkObsStep, yorkObs), ...fromPairs(yorkObsExtra)] },
  { model: lewisModel, obs: [...fromGrid(lewisObsStart, lewisObsStep, lewisObs), ...fromPairs(lewisObsExtra)] },
  { model: chesModel, obs: [] as Pt[] },
  { model: baltModel, obs: [...fromGrid(baltObsStart, baltObsStep, baltObs), ...fromPairs(baltObsExtra)] },
];

// ---------- layout (designed on a 6000 x 1800 canvas) ----------
const DESIGN_W = 6000;
const DESIGN_H = 1800;
const COL_LEFT = [155.7, 2141.7, 4128.8];
const ROW_TOP = [89, 970.5];
const PLOT_W = 1814.5;
const PLOT_H = 733;
const YAX_W = 210;
const M_TOP = 100;
const M_RIGHT = 30;
const XAX_H = 80;
const LW = 4.2;
const SPINE = 3.3;

const dotShape = (p: any) => <circle cx={p.cx} cy={p.cy} r={6} fill="#ff0000" />;

const depthContent = (text: string) => (props: any) => {
  const vb = props.viewBox || { x: 0, y: 0, width: 0, height: 0 };
  return (
    <text x={vb.x + 0.05 * vb.width} y={vb.y + 58} fontSize={31} fontWeight="bold" fontFamily={FONT} fill="#000">
      {text}
    </text>
  );
};

const legendRows = [21, 62, 105];
const LegendBox = () => (
  <div style={{ boxSizing: 'border-box', width: 290, height: 136, border: '3px solid #cccccc', borderRadius: 8, background: 'rgba(255,255,255,0.8)', position: 'relative', fontFamily: FONT, fontSize: 27.5, color: '#000' }}>
    {legendNames.map((name, i) => (
      <div key={name} style={{ position: 'absolute', left: 0, top: legendRows[i] - 20, height: 40, width: 284 }}>
        <svg width={80} height={40} style={{ position: 'absolute', left: 0, top: 0 }}>
          {i === 0 && <circle cx={37} cy={20} r={6} fill="#ff0000" />}
          {i === 1 && <line x1={6} y1={20} x2={65} y2={20} stroke="#008000" strokeWidth={LW} />}
          {i === 2 && <line x1={6} y1={20} x2={65} y2={20} stroke="#0000ff" strokeWidth={LW} strokeDasharray="15.5 6.7" />}
        </svg>
        <span style={{ position: 'absolute', left: 87, top: 0, lineHeight: '40px', whiteSpace: 'nowrap' }}>{name}</span>
      </div>
    ))}
  </div>
);

function Panel({ idx }: { idx: number }) {
  const col = idx % 3;
  const row = Math.floor(idx / 3);
  const st = stations[idx];
  const green = fromPairs(st.model);
  const blue = green.filter((d) => d.t <= blueEnd + 1e-6);
  const left = COL_LEFT[col] - YAX_W;
  const top = ROW_TOP[row] - M_TOP;
  return (
    <div style={{ position: 'absolute', left, top }}>
      <ComposedChart
        width={YAX_W + PLOT_W + M_RIGHT}
        height={M_TOP + PLOT_H + XAX_H}
        margin={{ top: M_TOP, right: M_RIGHT, bottom: 0, left: 0 }}
      >
        <CartesianGrid horizontal vertical={false} stroke="#e8e8e8" strokeWidth={3.3} />
        <CartesianGrid horizontal={false} vertical stroke="#ededed" strokeWidth={2.6} />
        <XAxis
          type="number"
          dataKey="t"
          domain={[0, 31]}
          ticks={xTicks}
          interval={0}
          allowDataOverflow
          height={XAX_H}
          tickFormatter={(v: number) => xTickLabels[xTicks.indexOf(v)]}
          tickSize={14.6}
          tickMargin={10}
          axisLine={{ stroke: '#000', strokeWidth: SPINE }}
          tickLine={{ stroke: '#000', strokeWidth: SPINE }}
          tick={{ fill: '#000', fontSize: 33.5, fontFamily: FONT }}
        />
        <YAxis
          type="number"
          dataKey="v"
          domain={[0, 40]}
          ticks={yTicks}
          interval={0}
          allowDataOverflow
          width={YAX_W}
          tickSize={14.6}
          tickMargin={10}
          axisLine={{ stroke: '#000', strokeWidth: SPINE }}
          tickLine={{ stroke: '#000', strokeWidth: SPINE }}
          tick={{ fill: '#000', fontSize: 33.5, fontFamily: FONT }}
          label={{ value: 'Salinity (PSU)', angle: -90, position: 'center', fontSize: 33.5, fontFamily: FONT, fill: '#000' }}
        />
        {st.obs.length > 0 && (
          <Scatter name="Obs" data={st.obs} fill="#ff0000" shape={dotShape} isAnimationActive={false} />
        )}
        <Line name="RUN100m_SE" data={green} dataKey="v" type="monotone" stroke="#008000" strokeWidth={LW} dot={false} activeDot={false} isAnimationActive={false} />
        <Line name="RUN100n_SE" data={blue} dataKey="v" type="monotone" stroke="#0000ff" strokeWidth={LW} strokeDasharray="15.5 6.7" dot={false} activeDot={false} isAnimationActive={false} />
        <ReferenceArea x1={0} x2={31} y1={0} y2={40} fill="none" fillOpacity={0} stroke="#000" strokeWidth={SPINE} ifOverflow="visible">
          <Label position="top" offset={22} value={titles[idx]} fontSize={38} fontFamily={FONT} fill="#000" />
          <Label content={depthContent(depthTexts[idx])} />
        </ReferenceArea>
        {idx === 0 && (
          <Legend
            layout="horizontal"
            verticalAlign="middle"
            align="center"
            content={() => <LegendBox />}
            wrapperStyle={{ left: YAX_W + 1511, top: M_TOP + 13, width: 290, height: 136 }}
          />
        )}
      </ComposedChart>
    </div>
  );
}

export default function App() {
  // The browser window may be narrower than the 6000 px design; fit the design into it.
  const vw = typeof window !== 'undefined' ? window.innerWidth : DESIGN_W;
  const vh = typeof window !== 'undefined' ? window.innerHeight : DESIGN_H;
  const sx = Math.min(1, vw / DESIGN_W);
  const sy = Math.min(1, vh / DESIGN_H);
  return (
    <div style={{ position: 'absolute', left: 0, top: 0, width: DESIGN_W * sx, height: DESIGN_H * sy, overflow: 'hidden', background: '#fff' }}>
      <div
        style={{
          position: 'absolute',
          left: 0,
          top: 0,
          width: DESIGN_W,
          height: DESIGN_H,
          background: '#fff',
          transform: `scale(${sx}, ${sy})`,
          transformOrigin: '0 0',
        }}
      >
        {[0, 1, 2, 3, 4, 5].map((i) => (
          <Panel key={i} idx={i} />
        ))}
      </div>
    </div>
  );
}
